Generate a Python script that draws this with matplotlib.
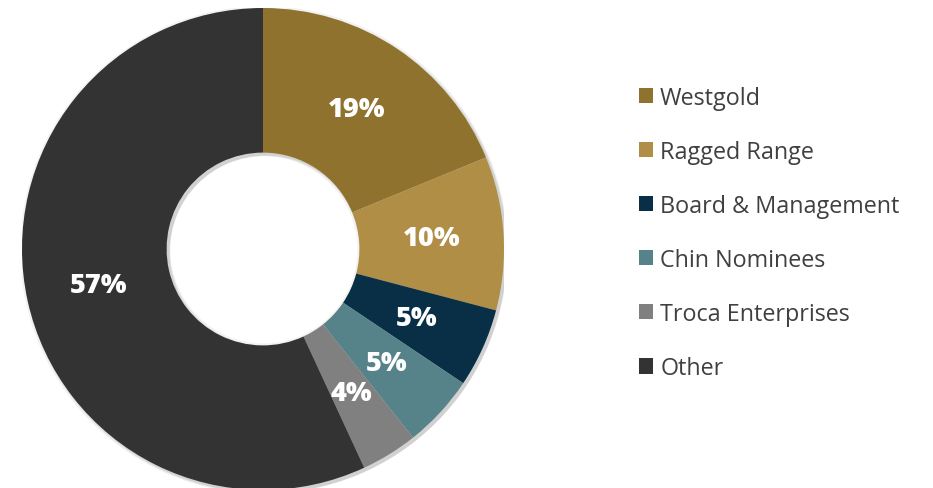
import matplotlib.pyplot as plt
from matplotlib.patches import Wedge

# shareholder split
holders = ['Westgold', 'Ragged Range', 'Board & Management', 'Chin Nominees',
           'Troca Enterprises', 'Other']
shares = [18.8, 10.3, 5.3, 4.9, 3.8, 56.9]
colors = ['#8F722D', '#B08E46', '#082F45', '#568289', '#808080', '#333333']

plt.rcParams['font.family'] = ['Open Sans', 'DejaVu Sans']

fig = plt.figure(figsize=(9.33, 4.89), dpi=100)
ax = fig.add_axes([22 / 933, -2 / 489, 482 / 933, 482 / 489])

# soft shadow under the ring
for k, a in enumerate([0.05, 0.06, 0.08]):
    off = 0.004 * (k + 1)
    ax.add_patch(Wedge((off, -off), 1.0 + 0.006 * (2 - k), 0, 360,
                       width=0.6 + 0.012 * (2 - k), color='black', alpha=a,
                       lw=0, zorder=0))

wedges, texts = ax.pie(shares, colors=colors, startangle=90, counterclock=False,
                       radius=1.0, wedgeprops=dict(width=0.6, linewidth=0),
                       labels=['%.0f%%' % s for s in shares], labeldistance=0.7)
for t in texts:
    t.set_color('white')
    t.set_fontsize(19.5)
    t.set_fontweight('heavy')
    t.set_ha('center')
    t.set_va('center')

ax.set_xlim(-1, 1)
ax.set_ylim(-1, 1)
ax.set_aspect('equal')
ax.axis('off')

leg = fig.legend(wedges, holders, loc='upper left',
                 bbox_to_anchor=(627 / 933, 1 - 75 / 489), frameon=False,
                 fontsize=16.8, handlelength=0.62, handleheight=0.62,
                 handletextpad=0.3, labelspacing=1.29, borderpad=0)
for t in leg.get_texts():
    t.set_color('#404040')

fig.savefig('out.png', dpi=100)
